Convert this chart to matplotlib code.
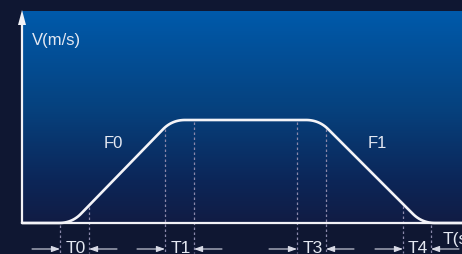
import numpy as np
import matplotlib
matplotlib.use("Agg")
import matplotlib.pyplot as plt
from matplotlib.colors import LinearSegmentedColormap

# ---- data (time axis in drawing units, velocity in drawing units) ----
t_profile = [22, 72, 172, 319, 422, 462]
v_profile = [0, 0, 103, 103, 0, 0]
corner_radius = 13

interval_bounds = [(60, 89), (165, 194), (297, 326), (403, 431)]
interval_labels = ["T0", "T1", "T3", "T4"]

segment_labels = ["F0", "F1"]
segment_label_pos = [(113, 81), (377, 81)]

y_label = "V(m/s)"
x_label = "T(s)"

# ---- figure ----
W, H = 462, 255
fig = plt.figure(figsize=(W / 100, H / 100), dpi=100)
bg = "#0f1732"
fig.patch.set_facecolor(bg)
ax = fig.add_axes([0, 0, 1, 1])
ax.set_facecolor(bg)
ax.set_xlim(0, W)
ax.set_ylim(-31, 224)
ax.axis("off")

font = ["Liberation Sans", "DejaVu Sans"]
txt_col = "#e4e8f2"

# gradient panel
grad = np.linspace(0, 1, 256).reshape(-1, 1)
cmap = LinearSegmentedColormap.from_list(
    "g", [(0.0, "#005aab"), (0.45, "#06427f"), (0.8, "#0c2658"), (1.0, "#111c44")])
ax.imshow(grad, cmap=cmap, aspect="auto", extent=[22, W, 0, 212],
          origin="upper", zorder=0, interpolation="bilinear")

# rounded profile
def rounded(xs, ys, r):
    pts = [(xs[0], ys[0])]
    for i in range(1, len(xs) - 1):
        p0 = np.array([xs[i - 1], ys[i - 1]], float)
        p1 = np.array([xs[i], ys[i]], float)
        p2 = np.array([xs[i + 1], ys[i + 1]], float)
        d1 = (p0 - p1) / np.linalg.norm(p0 - p1)
        d2 = (p2 - p1) / np.linalg.norm(p2 - p1)
        a = p1 + d1 * r
        b = p1 + d2 * r
        for s in np.linspace(0, 1, 20):
            q = (1 - s) ** 2 * a + 2 * (1 - s) * s * p1 + s ** 2 * b
            pts.append(tuple(q))
    pts.append((xs[-1], ys[-1]))
    return np.array(pts)

curve = rounded(t_profile, v_profile, corner_radius)

# axes lines
ax.plot([22, W], [0, 0], color="#f2f2f6", lw=1.6, zorder=3, solid_capstyle="butt")
ax.plot([22, 22], [0, 200], color="#f2f2f6", lw=1.6, zorder=3, solid_capstyle="butt")
ax.fill([18, 26, 22], [198, 198, 213], color="#f2f2f6", zorder=3, lw=0)

# dashed markers
for (a, b) in interval_bounds:
    for xv in (a, b):
        top = np.interp(xv, curve[:, 0], curve[:, 1]) - 2
        ax.plot([xv, xv], [top, -30], color="#8a88aa", lw=0.9,
                dashes=(2, 2), zorder=2)

# curve
ax.plot(curve[:, 0], curve[:, 1], color="#f4f4f8", lw=1.9, zorder=4,
        solid_capstyle="round")

# interval labels and arrows
arrow_len = 28
ay = -26
for (a, b), lab in zip(interval_bounds, interval_labels):
    ax.text((a + b) / 2 + 1, ay + 1, lab, color=txt_col, fontsize=12.5,
            family=font, ha="center", va="center", zorder=5)
    ax.annotate("", xy=(a, ay), xytext=(a - arrow_len, ay),
                arrowprops=dict(arrowstyle="-|>,head_length=0.5,head_width=0.18",
                                color="#d8dae6", lw=0.8, shrinkA=0, shrinkB=0))
    ax.annotate("", xy=(b, ay), xytext=(b + arrow_len, ay),
                arrowprops=dict(arrowstyle="-|>,head_length=0.5,head_width=0.18",
                                color="#d8dae6", lw=0.8, shrinkA=0, shrinkB=0))

for lab, (x, y) in zip(segment_labels, segment_label_pos):
    ax.text(x, y, lab, color=txt_col, fontsize=12, family=font,
            ha="center", va="center", zorder=5)

ax.text(32, 184, y_label, color=txt_col, fontsize=12, family=font,
        ha="left", va="center", zorder=5)
ax.text(443, -16, x_label, color=txt_col, fontsize=12.5, family=font,
        ha="left", va="center", zorder=5)

fig.savefig("out.png", dpi=100, facecolor=bg)
